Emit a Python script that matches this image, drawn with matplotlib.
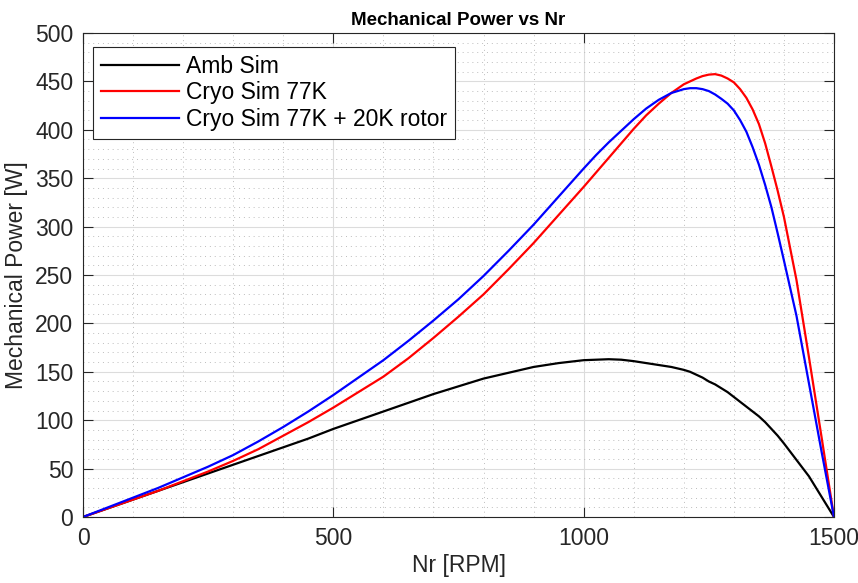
import matplotlib.pyplot as plt
from matplotlib.ticker import MultipleLocator

# rotor speed [RPM] and mechanical power [W]
nr = [0, 50, 100, 150, 200, 250, 300, 350, 400, 450, 500, 550, 600, 650, 700,
      750, 800, 850, 900, 950, 1000, 1025, 1050, 1075, 1100, 1125, 1150, 1175,
      1200, 1212.5, 1225, 1237.5, 1250, 1262.5, 1275, 1287.5, 1300, 1312.5,
      1325, 1337.5, 1350, 1362.5, 1375, 1387.5, 1400, 1425, 1450, 1475, 1500]
p_amb = [0, 9, 18, 27, 36, 45, 54, 63, 72, 81, 91, 100, 109, 118, 127,
         135, 143, 149, 155, 159, 162, 162.5, 163, 162.5, 161, 159, 157, 155,
         152, 150, 147, 144, 140, 137, 133, 129, 124, 119,
         114, 109, 104, 98, 91, 84, 76, 59, 42, 21, 0]
p_cryo = [0, 9, 18, 27, 37, 47, 58, 70, 84, 98, 113, 129, 145, 164, 185,
          207, 230, 256, 283, 312, 341, 356, 371, 386, 401, 415, 427, 438,
          447, 450, 453, 455.5, 457, 457.5, 456, 453, 449, 442,
          433, 421, 406, 386, 362, 337, 310, 245, 165, 83, 0]
p_cryo_rotor = [0, 10, 20, 30, 41, 52, 64, 78, 93, 109, 126, 144, 162, 182, 203,
                225, 249, 275, 302, 331, 360, 374, 387, 399, 411, 422, 431, 438,
                442, 443, 443, 442, 440, 436.5, 432, 427, 420, 410,
                398, 382, 364, 343, 320, 293, 265, 208, 138, 68, 0]

plt.rcParams['font.family'] = ['Liberation Sans', 'DejaVu Sans']
dark = '#262626'

fig = plt.figure(figsize=(8.58, 5.83), dpi=100)
ax = fig.add_axes([83 / 858, 66 / 583, 751 / 858, 484 / 583])

ax.plot(nr, p_amb, color='black', lw=1.6, label='Amb Sim')
ax.plot(nr, p_cryo, color='red', lw=1.6, label='Cryo Sim 77K')
ax.plot(nr, p_cryo_rotor, color='blue', lw=1.6, label='Cryo Sim 77K + 20K rotor')

ax.set_xlim(0, 1500)
ax.set_ylim(0, 500)
ax.xaxis.set_major_locator(MultipleLocator(500))
ax.yaxis.set_major_locator(MultipleLocator(50))
ax.xaxis.set_minor_locator(MultipleLocator(100))
ax.yaxis.set_minor_locator(MultipleLocator(10))

# matlab style grid: light solid major, dotted minor
ax.grid(which='major', color='#dcdcdc', lw=0.8, ls='-')
ax.grid(which='minor', color='#bdbdbd', lw=0.7, ls=(0, (1, 4)))
ax.set_axisbelow(True)

ax.tick_params(which='major', direction='in', length=7, width=0.8,
               top=True, right=True, labelsize=16.5, colors=dark, pad=7)
ax.tick_params(which='minor', length=0, top=True, right=True)
for s in ax.spines.values():
    s.set_color(dark)
    s.set_linewidth(0.8)

ax.set_title('Mechanical Power vs Nr', fontsize=13.5, fontweight='bold', pad=6)
ax.set_xlabel('Nr [RPM]', fontsize=16.5, color=dark, labelpad=3)
ax.set_ylabel('Mechanical Power [W]', fontsize=16.5, color=dark, labelpad=5)

leg = ax.legend(loc='upper left', bbox_to_anchor=(10 / 751, 1 - 14 / 484),
                borderaxespad=0, fontsize=16.5, fancybox=False, framealpha=1,
                edgecolor=dark, handlelength=3.4, handletextpad=0.3,
                borderpad=0.35, labelspacing=0.15)
leg.get_frame().set_linewidth(0.8)

fig.savefig('out.png', dpi=100)
